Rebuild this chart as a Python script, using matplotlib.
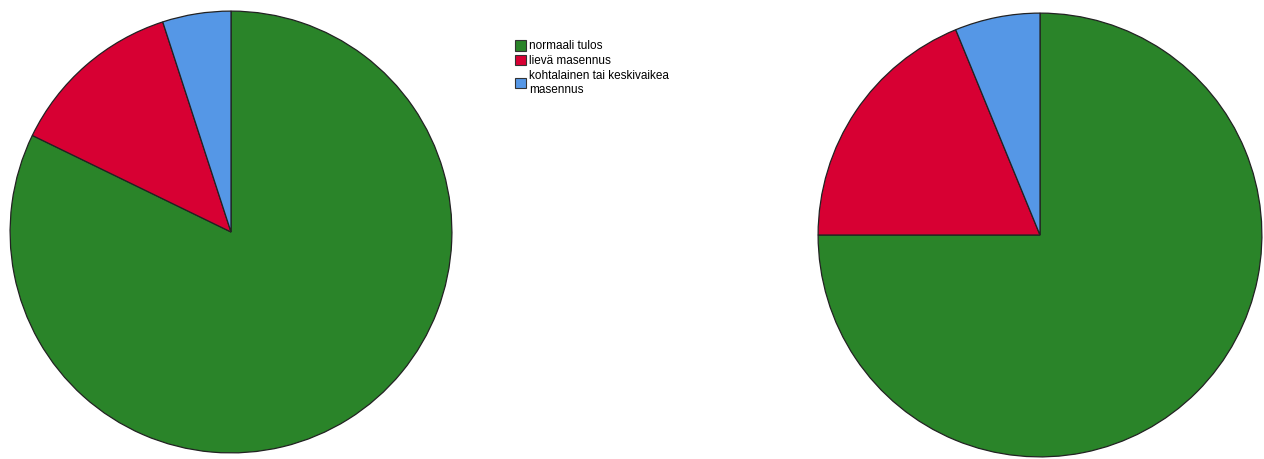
import matplotlib.pyplot as plt
from matplotlib.patches import Patch

labels = ['normaali tulos', 'lievä masennus', 'kohtalainen tai keskivaikea\nmasennus']
colors = ['#2a8429', '#d70033', '#5597e6']

left_vals = [82.2, 12.8, 5.0]
right_vals = [75.0, 18.8, 6.2]

fig = plt.figure(figsize=(12.64, 4.59), dpi=100)

ax1 = fig.add_axes([9/1264, 5/459, 444/1264, 444/459])
ax2 = fig.add_axes([817/1264, 1/459, 446/1264, 446/459])

for ax, vals in [(ax1, left_vals), (ax2, right_vals)]:
    ax.pie(vals, colors=colors, startangle=90, counterclock=False,
           radius=1, wedgeprops=dict(edgecolor='#222222', linewidth=0.9))
    ax.set_xlim(-1.005, 1.005)
    ax.set_ylim(-1.005, 1.005)
    ax.set_aspect('equal')
    ax.axis('off')

handles = [Patch(facecolor=c, edgecolor='#333333', linewidth=0.8) for c in colors]
leg = fig.legend(handles, labels, loc='upper left', bbox_to_anchor=(515/1264, 1 - 40/459),
                 frameon=False, prop={'family': 'Liberation Sans', 'size': 8.5},
                 handlelength=0.95, handleheight=1.0,
                 handletextpad=0.25, labelspacing=0.22, borderpad=0, borderaxespad=0)
for t in leg.get_texts():
    t.set_linespacing(1.2)

fig.savefig('out.png', dpi=100)
